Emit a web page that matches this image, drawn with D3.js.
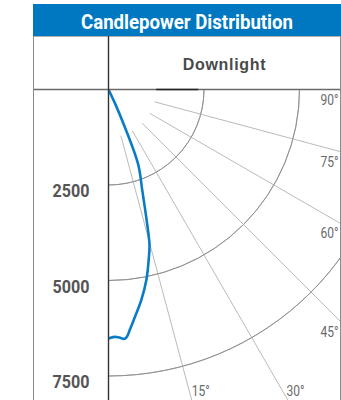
<!DOCTYPE html>
<html lang="en">
<head>
  <meta charset="UTF-8">
  <title>Candlepower Distribution</title>
  <script src="https://d3js.org/d3.v7.min.js"></script>
  <style>
    body { margin: 0; background: #fff; }
    svg { display: block; }
  </style>
</head>
<body>
<div class="main"></div>
<script>
  // candela readings, angle measured from straight down (nadir)
  var angles  = [0, 1.4, 2.5, 3.7, 4.3, 5.1, 6.3, 7.6, 8.9, 11.3, 13.3, 14.8, 16.3, 18.6, 21.6, 23.6, 25, 26];
  var candela = [6520, 6477, 6500, 6540, 6485, 6310, 6060, 5810, 5570, 5070, 4575, 4200, 3550, 2760, 2110, 1000, 430, 0];

  var ringValues = [2500, 5000, 7500];
  var ringLabels = ["2500", "5000", "7500"];
  var spokeAngles = [15, 30, 45, 60, 75, 90];
  var spokeLabels = ["15°", "30°", "45°", "60°", "75°", "90°"];

  var title = "Candlepower Distribution";
  var colTitle = "Downlight";

  var width = 341, height = 400;
  var left = 33, right = 340.5, divX = 108.5, headTop = 4, headBottom = 36, rowLine = 89.5;
  var cx = divX, cy = rowLine;
  var condensed = "Roboto, 'DejaVu Sans Condensed', sans-serif";

  var svg = d3.select(".main").append("svg")
          .attr("width", width)
          .attr("height", height);

  var rScale = d3.scaleLinear().domain([0, 7500]).range([0, 286.5]);
  var rad = function (deg) { return deg * Math.PI / 180; };

  // blue title bar
  svg.append("rect").attr("x", left).attr("y", headTop).attr("width", right - left + 0.5).attr("height", headBottom - headTop).style("fill", "#0078c1");
  svg.append("text").attr("x", 81).attr("y", 28.5)
          .attr("textLength", 212).attr("lengthAdjust", "spacingAndGlyphs")
          .style("font-family", condensed)
          .style("font-weight", "bold").style("font-size", "20px")
          .style("fill", "#fff").text(title);

  svg.append("text").attr("x", (divX + right) / 2).attr("y", 69.5)
          .attr("text-anchor", "middle")
          .style("font-family", "'Liberation Sans', Arial, sans-serif")
          .style("font-weight", "bold").style("font-size", "16px").style("letter-spacing", "0.7px")
          .style("fill", "#4a4a4a").text(colTitle);

  // plot area, clipped to the table cell
  svg.append("clipPath").attr("id", "plotClip")
          .append("rect").attr("x", divX).attr("y", rowLine).attr("width", right - divX).attr("height", height - rowLine);

  var plot = svg.append("g").attr("clip-path", "url(#plotClip)");
  var g = plot.append("g").attr("transform", "translate(" + cx + "," + cy + ")");

  // rings (quarter arcs)
  var arc = d3.arc().startAngle(rad(90)).endAngle(rad(180));
  g.selectAll("path.ring")
          .data(ringValues)
          .join("path")
          .attr("class", "ring")
          .attr("d", function (d) { return arc({innerRadius: rScale(d), outerRadius: rScale(d)}); })
          .style("fill", "none").style("stroke", "#8a8a8a").style("stroke-width", 0.8);

  // spokes
  g.selectAll("line.spoke")
          .data(spokeAngles)
          .join("line")
          .attr("class", "spoke")
          .attr("x1", function (d) { return rScale(1250) * Math.sin(rad(d)); })
          .attr("y1", function (d) { return rScale(1250) * Math.cos(rad(d)); })
          .attr("x2", function (d) { return rScale(12000) * Math.sin(rad(d)); })
          .attr("y2", function (d) { return rScale(12000) * Math.cos(rad(d)); })
          .style("stroke", "#a8a8a8").style("stroke-width", 0.8);

  // candlepower curve
  var pts = angles.map(function (a, i) { return [a, candela[i]]; });
  var curve = d3.lineRadial()
          .angle(function (d) { return Math.PI - rad(d[0]); })
          .radius(function (d) { return rScale(d[1]); })
          .curve(d3.curveCatmullRom.alpha(0.5));
  g.append("path").datum(pts).attr("d", curve)
          .style("fill", "none").style("stroke", "#0a7cc6").style("stroke-width", 2.6)
          .style("stroke-linejoin", "round").style("stroke-linecap", "round");

  // table lines
  svg.append("line").attr("x1", left).attr("x2", right).attr("y1", headBottom + 0.5).attr("y2", headBottom + 0.5).style("stroke", "#b0b0b0").style("stroke-width", 1);
  svg.append("line").attr("x1", left).attr("x2", right).attr("y1", rowLine).attr("y2", rowLine).style("stroke", "#6a6a6a").style("stroke-width", 1.5);
  svg.append("line").attr("x1", cx + rScale(1250)).attr("x2", cx + rScale(2350)).attr("y1", rowLine).attr("y2", rowLine).style("stroke", "#222").style("stroke-width", 1.5);
  svg.append("line").attr("x1", left + 0.5).attr("x2", left + 0.5).attr("y1", headBottom).attr("y2", height).style("stroke", "#8a8a8a").style("stroke-width", 1);
  svg.append("line").attr("x1", divX).attr("x2", divX).attr("y1", headBottom).attr("y2", height).style("stroke", "#333").style("stroke-width", 1.4);
  svg.append("line").attr("x1", right).attr("x2", right).attr("y1", headBottom).attr("y2", height).style("stroke", "#8a8a8a").style("stroke-width", 1);

  // ring labels in the left column
  svg.selectAll("text.ringLabel")
          .data(ringValues)
          .join("text")
          .attr("class", "ringLabel")
          .attr("x", 52.5)
          .attr("y", function (d) { return cy + rScale(d) + 12; })
          .attr("textLength", 37).attr("lengthAdjust", "spacingAndGlyphs")
          .style("font-family", condensed)
          .style("font-weight", "bold").style("font-size", "18px")
          .style("fill", "#555")
          .text(function (d, i) { return ringLabels[i]; });

  // spoke labels: on the right edge, or along the bottom
  var wRight = right - cx;
  svg.selectAll("text.spokeLabel")
          .data(spokeAngles)
          .join("text")
          .attr("class", "spokeLabel")
          .attr("x", function (d) {
            if (d >= 45) return 320.5;
            return cx + (395 - cy) * Math.tan(rad(d)) + 1.5;
          })
          .attr("y", function (d) {
            if (d >= 45) return cy + (d === 90 ? 0 : wRight / Math.tan(rad(d))) + 15;
            return 395.5;
          })
          .attr("textLength", 18).attr("lengthAdjust", "spacingAndGlyphs")
          .style("font-family", condensed)
          .style("font-size", "14.5px")
          .style("fill", "#6a6a6a")
          .text(function (d, i) { return spokeLabels[i]; });
</script>
</body>
</html>
